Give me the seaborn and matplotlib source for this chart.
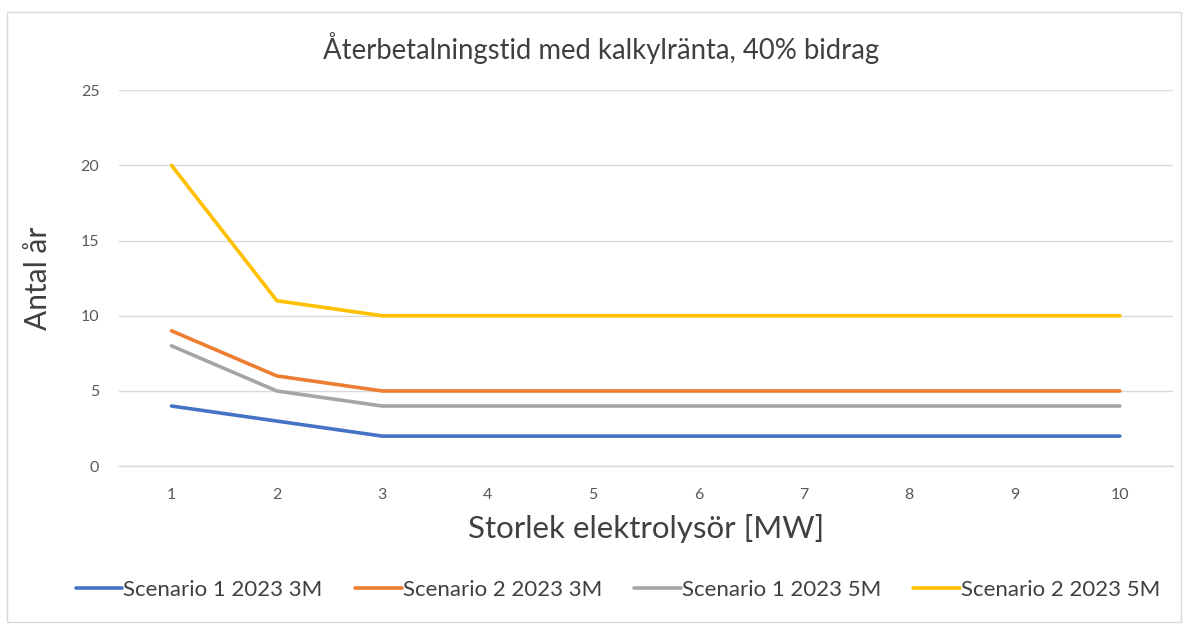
import matplotlib
matplotlib.use("Agg")
import matplotlib.pyplot as plt
import seaborn as sns
import pandas as pd
from matplotlib.patches import Rectangle

sizes = [1, 2, 3, 4, 5, 6, 7, 8, 9, 10]
s1_3m = [4, 3, 2, 2, 2, 2, 2, 2, 2, 2]
s2_3m = [9, 6, 5, 5, 5, 5, 5, 5, 5, 5]
s1_5m = [8, 5, 4, 4, 4, 4, 4, 4, 4, 4]
s2_5m = [20, 11, 10, 10, 10, 10, 10, 10, 10, 10]
series_names = ["Scenario 1 2023 3M", "Scenario 2 2023 3M", "Scenario 1 2023 5M", "Scenario 2 2023 5M"]
colors = ["#4472C4", "#ED7D31", "#A5A5A5", "#FFC000"]
y_ticks = [0, 5, 10, 15, 20, 25]

rows = []
for name, vals in zip(series_names, [s1_3m, s2_3m, s1_5m, s2_5m]):
    for x, v in zip(sizes, vals):
        rows.append({"size": x, "value": v, "series": name})
df = pd.DataFrame(rows)

sns.set_theme(style="white")
plt.rcParams["font.family"] = ["Lato", "DejaVu Sans"]

fig = plt.figure(figsize=(11.88, 6.3), dpi=100)
ax = fig.add_axes([0.100, 0.260, 0.887, 0.597])

sns.lineplot(data=df, x="size", y="value", hue="series", hue_order=series_names,
             palette=colors, linewidth=2.6, ax=ax, legend=True)

ax.set_xlim(0.5, 10.5)
ax.set_ylim(0, 25)
ax.set_xticks(sizes)
ax.set_xticklabels([str(s) for s in sizes])
ax.set_yticks(y_ticks)
ax.set_yticklabels([str(t) for t in y_ticks])
ax.tick_params(axis="both", length=0, labelsize=11.5, colors="#595959")
ax.tick_params(axis="x", pad=16)
ax.tick_params(axis="y", pad=14)
ax.grid(axis="y", color="#D9D9D9", linewidth=1)
ax.set_axisbelow(True)
for sp in ["top", "right", "left"]:
    ax.spines[sp].set_visible(False)
ax.spines["bottom"].set_color("#D9D9D9")
ax.spines["bottom"].set_linewidth(1)

ax.set_xlabel("Storlek elektrolysör [MW]", fontsize=22.5, color="#404040", labelpad=8)
ax.set_ylabel("Antal år", fontsize=21.5, color="#404040")
ax.yaxis.set_label_coords(-0.063, 0.5)
fig.text(601 / 1188, 1 - 48 / 630, "Återbetalningstid med kalkylränta, 40% bidrag",
         fontsize=19.8, color="#404040", ha="center", va="center")

handles, labels = ax.get_legend_handles_labels()
ax.legend(handles, labels, loc="center", bbox_to_anchor=(618 / 1188, 1 - 590 / 630),
          bbox_transform=fig.transFigure,
          ncol=4, frameon=False, fontsize=16, handlelength=2.1, handletextpad=0.05,
          columnspacing=1.45, labelcolor="#404040")

fig.patches.append(Rectangle((7 / 1188, 1 - 622 / 630), 1174 / 1188, 610 / 630,
                             transform=fig.transFigure, fill=False, edgecolor="#D9D9D9",
                             linewidth=1, zorder=-1))

fig.savefig("out.png", dpi=100, facecolor="white")
